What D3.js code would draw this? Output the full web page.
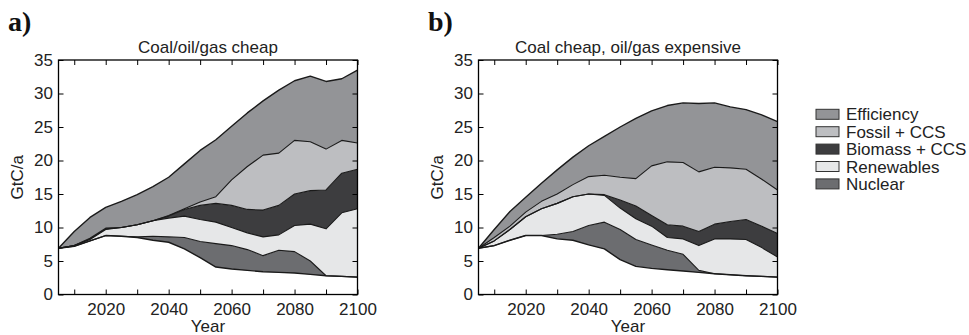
<!DOCTYPE html>
<html><head><meta charset="utf-8">
<script src="https://cdn.jsdelivr.net/npm/d3@7"></script>
<style>body{margin:0;background:#fff} svg{display:block}</style>
</head><body><svg id="c" width="969" height="335"></svg>
<script>
// ---------- data ----------
const years = [2005,2010,2015,2020,2025,2030,2035,2040,2045,2050,2055,2060,2065,2070,2075,2080,2085,2090,2095,2100];
const legendLabels = ["Efficiency","Fossil + CCS","Biomass + CCS","Renewables","Nuclear"];
const xTickValues = [2010,2020,2030,2040,2050,2060,2070,2080,2090,2100];
const xTickLabels = [2020,2040,2060,2080,2100];
const yTickValues = [0,5,10,15,20,25,30,35];
const panelTitles = ["Coal/oil/gas cheap","Coal cheap, oil/gas expensive"];
const panelLetters = ["a)","b)"];

// Panel a: upper edge of each wedge (GtC/a); residual = remaining emissions line
const aResidual   = [6.9,7.2,8.0,8.8,8.7,8.5,8.1,7.8,6.8,5.5,4.1,3.8,3.6,3.4,3.3,3.2,3.0,2.8,2.7,2.6];
const aNuclear    = [6.9,7.2,8.0,8.8,8.7,8.6,8.7,8.6,8.5,7.9,7.6,7.3,6.7,5.8,6.6,6.4,5.0,2.8,2.7,2.6];
const aRenewables = [6.9,7.3,8.2,9.7,10.0,10.4,11.0,11.4,11.7,11.2,10.8,10.0,9.2,8.6,8.9,10.3,10.5,9.8,12.2,12.8];
const aBiomassCCS = [6.9,7.3,8.3,9.8,10.0,10.4,11.0,11.7,12.7,13.3,13.6,13.3,12.7,12.6,13.3,15.0,15.5,15.6,18.1,18.7];
const aFossilCCS  = [6.9,7.3,8.4,9.9,10.0,10.4,11.0,11.8,12.8,13.8,14.6,17.1,19.1,20.8,21.1,23.0,22.8,21.7,23.0,22.6];
const aEfficiency = [6.9,9.4,11.5,13.0,13.9,14.9,16.1,17.5,19.5,21.5,23.1,25.1,27.1,28.9,30.5,31.9,32.6,31.8,32.2,33.5];

// Panel b
const bResidual   = [6.9,7.3,8.1,8.8,8.8,8.3,8.1,7.4,6.8,5.2,4.2,3.9,3.7,3.5,3.3,3.1,2.95,2.8,2.7,2.6];
const bNuclear    = [6.9,7.3,8.1,8.8,8.8,9.0,9.4,10.3,10.8,9.7,8.2,7.4,6.6,6.0,3.6,3.1,2.95,2.8,2.7,2.6];
const bRenewables = [6.9,8.0,9.7,11.6,12.8,13.6,14.6,15.0,14.8,12.9,11.3,10.2,8.5,8.3,7.3,8.3,8.3,8.2,7.0,5.6];
const bBiomassCCS = [6.9,8.0,9.7,11.6,12.8,13.6,14.6,15.0,14.9,14.1,13.2,11.8,10.4,10.2,9.4,10.5,10.9,11.2,10.2,9.1];
const bFossilCCS  = [6.9,8.5,10.2,12.3,13.9,15.0,16.4,17.6,17.8,17.5,17.3,19.2,19.8,19.7,18.3,19.0,18.9,18.7,17.2,15.6];
const bEfficiency = [6.9,9.7,12.4,14.5,16.6,18.6,20.5,22.2,23.6,25.0,26.3,27.4,28.2,28.6,28.5,28.6,28.0,27.6,26.8,25.8];

// ---------- styling ----------
const fills = {"Efficiency":"#939497","Fossil + CCS":"#bdbec1","Biomass + CCS":"#3d3d3f","Renewables":"#e6e7e8","Nuclear":"#6c6d70"};
const FONT = "'Liberation Sans', Arial, Helvetica, sans-serif";
const FS = 17;

const svg = d3.select("#c");
const plotTop = 60, plotBottom = 294.5;
const panels = [
  {x0: 58.5, edges: [aResidual,aNuclear,aRenewables,aBiomassCCS,aFossilCCS,aEfficiency]},
  {x0: 478.5, edges: [bResidual,bNuclear,bRenewables,bBiomassCCS,bFossilCCS,bEfficiency]}
];
const W = 299;
const wedgeOrder = ["Nuclear","Renewables","Biomass + CCS","Fossil + CCS","Efficiency"];

panels.forEach((p, pi) => {
  const x = d3.scaleLinear().domain([2005, 2100]).range([p.x0, p.x0 + W]);
  const y = d3.scaleLinear().domain([0, 35]).range([plotBottom, plotTop]);
  const g = svg.append("g");

  wedgeOrder.forEach((name, i) => {
    const lo = p.edges[i], hi = p.edges[i + 1];
    const area = d3.area()
      .x((d, k) => x(years[k]))
      .y0((d, k) => y(lo[k]))
      .y1((d, k) => y(hi[k]));
    g.append("path").datum(years).attr("d", area)
      .attr("fill", fills[name]).attr("stroke", "none");
  });
  p.edges.forEach((e, i) => {
    const line = d3.line().x((d, k) => x(years[k])).y((d, k) => y(e[k]));
    g.append("path").datum(years).attr("d", line)
      .attr("fill", "none").attr("stroke", "#1a1a1a")
      .attr("stroke-width", (i === 0 || i === p.edges.length - 1) ? 1.4 : 1.1)
      .attr("stroke-linejoin", "round");
  });

  // axes with inward ticks
  const ax = (gen, tr) => {
    const a = g.append("g").attr("transform", tr).call(gen);
    a.select(".domain").remove();
    a.selectAll(".tick line").attr("stroke", "#000").attr("stroke-width", 1);
    a.selectAll("text").attr("font-size", FS).attr("font-family", FONT).attr("fill", "#222");
    return a;
  };
  ax(d3.axisBottom(x).tickValues(xTickValues).tickSizeInner(-5).tickSizeOuter(0).tickPadding(8.4)
       .tickFormat(d => xTickLabels.includes(d) ? String(d) : ""), `translate(0,${plotBottom})`);
  ax(d3.axisTop(x).tickValues(xTickValues).tickSizeInner(-5).tickSizeOuter(0).tickFormat(""), `translate(0,${plotTop})`);
  ax(d3.axisLeft(y).tickValues(yTickValues).tickSizeInner(-5).tickSizeOuter(0).tickPadding(5.5), `translate(${p.x0},0)`);
  ax(d3.axisRight(y).tickValues(yTickValues).tickSizeInner(-5).tickSizeOuter(0).tickFormat(""), `translate(${p.x0 + W},0)`);

  g.append("rect").attr("x", p.x0).attr("y", plotTop).attr("width", W).attr("height", plotBottom - plotTop)
    .attr("fill", "none").attr("stroke", "#000").attr("stroke-width", 1.3);

  // titles & labels
  g.append("text").attr("x", p.x0 + W / 2).attr("y", 53).attr("text-anchor", "middle")
    .attr("font-family", FONT).attr("font-size", FS).attr("fill", "#222").text(panelTitles[pi]);
  g.append("text").attr("x", p.x0 + W / 2).attr("y", 332).attr("text-anchor", "middle")
    .attr("font-family", FONT).attr("font-size", FS).attr("fill", "#222").text("Year");
  g.append("text").attr("transform", `translate(${p.x0 - 35.5},${(plotTop + plotBottom) / 2}) rotate(-90)`)
    .attr("text-anchor", "middle").attr("font-family", FONT).attr("font-size", FS).attr("fill", "#222").text("GtC/a");
  g.append("text").attr("x", p.x0 - 50.5).attr("y", 31).attr("font-family", "'Liberation Serif', 'Times New Roman', serif")
    .attr("font-weight", "bold").attr("font-size", 28).attr("fill", "#111").text(panelLetters[pi]);
});

// legend
const lg = svg.append("g");
legendLabels.forEach((name, i) => {
  const ty = 109.3 + i * 17.4;
  lg.append("rect").attr("x", 816).attr("y", ty).attr("width", 23).attr("height", 10)
    .attr("fill", fills[name]).attr("stroke", "#333").attr("stroke-width", 1);
  lg.append("text").attr("x", 846).attr("y", ty + 11).attr("font-family", FONT)
    .attr("font-size", FS).attr("fill", "#222").text(name);
});
</script>
</body></html>
